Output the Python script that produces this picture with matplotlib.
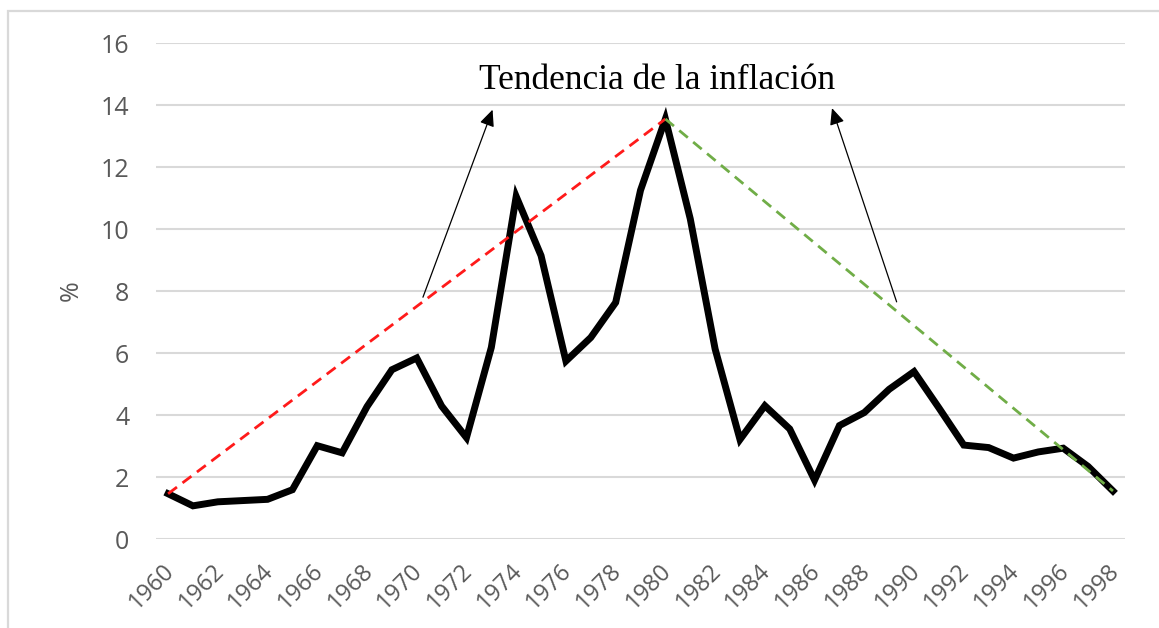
import numpy as np
import matplotlib as mpl
mpl.use('Agg')
import matplotlib.pyplot as plt
import matplotlib.transforms as mtransforms
from matplotlib.patches import Rectangle

# data: annual inflation (%)
years = list(range(1960, 1999))
inflation = [1.46, 1.07, 1.20, 1.24, 1.28, 1.59, 3.01, 2.78, 4.27, 5.46,
             5.84, 4.29, 3.27, 6.18, 11.05, 9.14, 5.74, 6.50, 7.63, 11.25,
             13.55, 10.33, 6.13, 3.21, 4.30, 3.55, 1.90, 3.66, 4.08, 4.83,
             5.40, 4.23, 3.03, 2.95, 2.61, 2.81, 2.93, 2.34, 1.55]
trend_up_x = [1960, 1980]
trend_up_y = [1.46, 13.55]
trend_down_x = [1980, 1998]
trend_down_y = [13.55, 1.55]
yticks = [0, 2, 4, 6, 8, 10, 12, 14, 16]
xticks = list(range(1960, 1999, 2))

tick_font = 'Open Sans'
gray = '#595959'

fig = plt.figure(figsize=(11.59, 6.28), dpi=100)
ax = fig.add_axes([0.1343, 0.1417, 0.8367, 0.7898])

# outer chart frame
fig.patches.append(Rectangle((8/1159, -0.1), 1.2, 1 - 11/628 + 0.1,
                             transform=fig.transFigure, fill=False,
                             edgecolor='#d9d9d9', linewidth=1.6))

ax.plot(years, inflation, color='black', linewidth=5,
        solid_joinstyle='miter', zorder=3)
ax.plot(trend_up_x, trend_up_y, color='#ff1a1a', linewidth=2,
        dashes=(4, 2.5), zorder=4)
ax.plot(trend_down_x, trend_down_y, color='#70ad47', linewidth=2,
        dashes=(4, 2.5), zorder=4)

# arrows pointing to the label
arrow_kw = dict(arrowstyle='-|>,head_length=1.0,head_width=0.45',
                color='black', linewidth=0.9, shrinkA=0, shrinkB=0)
ax.annotate('', xy=(1973.05, 13.85), xytext=(1970.25, 7.8), arrowprops=arrow_kw)
ax.annotate('', xy=(1986.7, 13.9), xytext=(1989.3, 7.65), arrowprops=arrow_kw)

ax.text(1979.66, 14.8, 'Tendencia de la inflación', ha='center', va='center',
        family='Liberation Serif', fontsize=25.5, color='black')

ax.set_xlim(1959.5, 1998.5)
ax.set_ylim(0, 16)
ax.set_yticks(yticks)
ax.set_xticks(xticks)
ax.set_xticklabels([str(x) for x in xticks], rotation=45, ha='right',
                   va='top', rotation_mode='anchor')
ax.yaxis.grid(True, color='#d9d9d9', linewidth=1.5)
ax.set_axisbelow(True)
for s in ax.spines.values():
    s.set_visible(False)
ax.tick_params(axis='both', length=0, labelcolor=gray)
ax.tick_params(axis='y', pad=19, labelsize=18)
ax.tick_params(axis='x', pad=10, labelsize=17)
shift = mtransforms.ScaledTranslation(-0.06, -0.06, fig.dpi_scale_trans)
for lab in ax.get_xticklabels():
    lab.set_family(tick_font)
    lab.set_transform(lab.get_transform() + shift)
for lab in ax.get_yticklabels():
    lab.set_family(tick_font)
ax.set_ylabel('%', fontsize=18, color=gray, family=tick_font, labelpad=12)

fig.savefig('out.png', dpi=100)
